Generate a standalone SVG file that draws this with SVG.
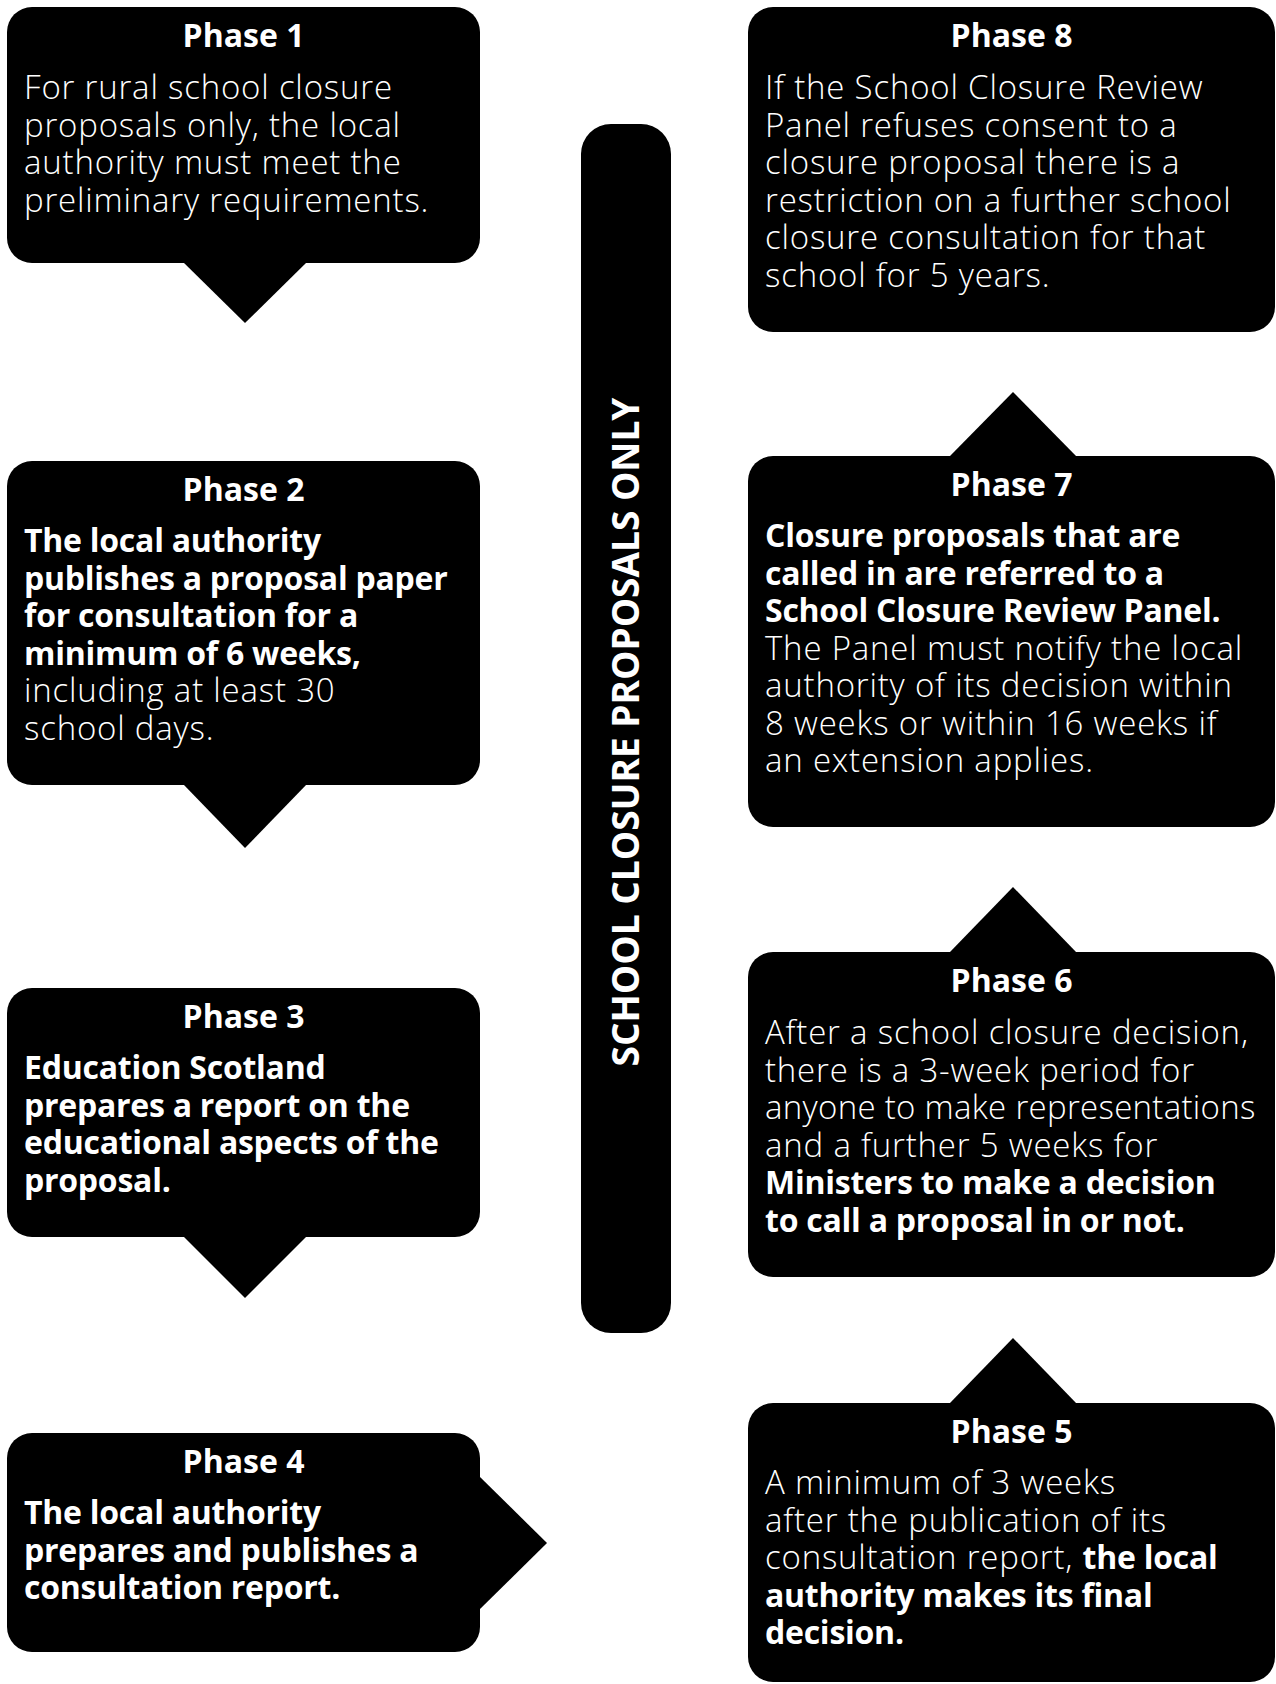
<svg xmlns="http://www.w3.org/2000/svg" width="1276" height="1684" viewBox="0 0 1276 1684">
<style>
.box{fill:#000}
.ptr{fill:#000}
text{font-family:"Open Sans","Noto Sans","Liberation Sans",sans-serif;fill:#fff}
.t{font-size:32px;font-weight:700;text-anchor:middle}
.l{font-size:33px;font-weight:300;letter-spacing:0.8px}
.b{font-size:32px;font-weight:700;letter-spacing:-0.25px}
.bar{font-size:37px;font-weight:700;text-anchor:middle}
.tight{letter-spacing:0.3px}
</style>
<rect width="1276" height="1684" fill="#fff"/>
<g id="connectors">
<polygon class="ptr" points="183,262 245,323 307,262"/>
<polygon class="ptr" points="183,784 245,848 307,784"/>
<polygon class="ptr" points="183,1236 245,1298 307,1236"/>
<polygon class="ptr" points="479,1476 547,1543 479,1610"/>
<polygon class="ptr" points="949,1404 1013,1338 1077,1404"/>
<polygon class="ptr" points="949,953 1013,887 1077,953"/>
<polygon class="ptr" points="949,457 1013,392 1077,457"/>
</g>
<g id="bar">
<rect class="box" x="581" y="124" width="90" height="1209" rx="30"/>
<text class="bar" transform="translate(639,732) rotate(-90)">SCHOOL CLOSURE PROPOSALS ONLY</text>
</g>
<g id="phase1">
<rect class="box" x="7" y="7" width="473" height="256" rx="25"/>
<text class="t" x="243.5" y="47">Phase 1</text>
<text class="l" x="24" y="99">For rural school closure</text>
<text class="l" x="24" y="136.5">proposals only, the local</text>
<text class="l" x="24" y="174">authority must meet the</text>
<text class="l" x="24" y="211.5">preliminary requirements.</text>
</g>
<g id="phase2">
<rect class="box" x="7" y="461" width="473" height="324" rx="25"/>
<text class="t" x="243.5" y="501">Phase 2</text>
<text class="b" x="24" y="552">The local authority</text>
<text class="b" x="24" y="589.5">publishes a proposal paper</text>
<text class="b" x="24" y="627">for consultation for a</text>
<text class="b" x="24" y="664.5">minimum of 6 weeks,</text>
<text class="l" x="24" y="702">including at least 30</text>
<text class="l" x="24" y="739.5">school days.</text>
</g>
<g id="phase3">
<rect class="box" x="7" y="988" width="473" height="249" rx="25"/>
<text class="t" x="243.5" y="1028">Phase 3</text>
<text class="b" x="24" y="1079">Education Scotland</text>
<text class="b" x="24" y="1116.5">prepares a report on the</text>
<text class="b" x="24" y="1154">educational aspects of the</text>
<text class="b" x="24" y="1191.5">proposal.</text>
</g>
<g id="phase4">
<rect class="box" x="7" y="1433" width="473" height="219" rx="25"/>
<text class="t" x="243.5" y="1473">Phase 4</text>
<text class="b" x="24" y="1524">The local authority</text>
<text class="b" x="24" y="1561.5">prepares and publishes a</text>
<text class="b" x="24" y="1599">consultation report.</text>
</g>
<g id="phase5">
<rect class="box" x="748" y="1403" width="527" height="279" rx="25"/>
<text class="t" x="1011.5" y="1443">Phase 5</text>
<text class="l" x="765" y="1494">A minimum of 3 weeks</text>
<text class="l" x="765" y="1531.5">after the publication of its</text>
<text class="l" x="765" y="1569">consultation report, <tspan class="b">the local</tspan></text>
<text class="b" x="765" y="1606.5">authority makes its final</text>
<text class="b" x="765" y="1644">decision.</text>
</g>
<g id="phase6">
<rect class="box" x="748" y="952" width="527" height="325" rx="25"/>
<text class="t" x="1011.5" y="992">Phase 6</text>
<text class="l" x="765" y="1044">After a school closure decision,</text>
<text class="l" x="765" y="1081.5">there is a 3-week period for</text>
<text class="l tight" x="765" y="1119">anyone to make representations</text>
<text class="l" x="765" y="1156.5">and a further 5 weeks for</text>
<text class="b" x="765" y="1194">Ministers to make a decision</text>
<text class="b" x="765" y="1231.5">to call a proposal in or not.</text>
</g>
<g id="phase7">
<rect class="box" x="748" y="456" width="527" height="371" rx="25"/>
<text class="t" x="1011.5" y="496">Phase 7</text>
<text class="b" x="765" y="547">Closure proposals that are</text>
<text class="b" x="765" y="584.5">called in are referred to a</text>
<text class="b" x="765" y="622">School Closure Review Panel.</text>
<text class="l" x="765" y="659.5">The Panel must notify the local</text>
<text class="l" x="765" y="697">authority of its decision within</text>
<text class="l" x="765" y="734.5">8 weeks or within 16 weeks if</text>
<text class="l" x="765" y="772">an extension applies.</text>
</g>
<g id="phase8">
<rect class="box" x="748" y="7" width="527" height="325" rx="25"/>
<text class="t" x="1011.5" y="47">Phase 8</text>
<text class="l" x="765" y="99">If the School Closure Review</text>
<text class="l" x="765" y="136.5">Panel refuses consent to a</text>
<text class="l" x="765" y="174">closure proposal there is a</text>
<text class="l" x="765" y="211.5">restriction on a further school</text>
<text class="l" x="765" y="249">closure consultation for that</text>
<text class="l" x="765" y="286.5">school for 5 years.</text>
</g>
</svg>
